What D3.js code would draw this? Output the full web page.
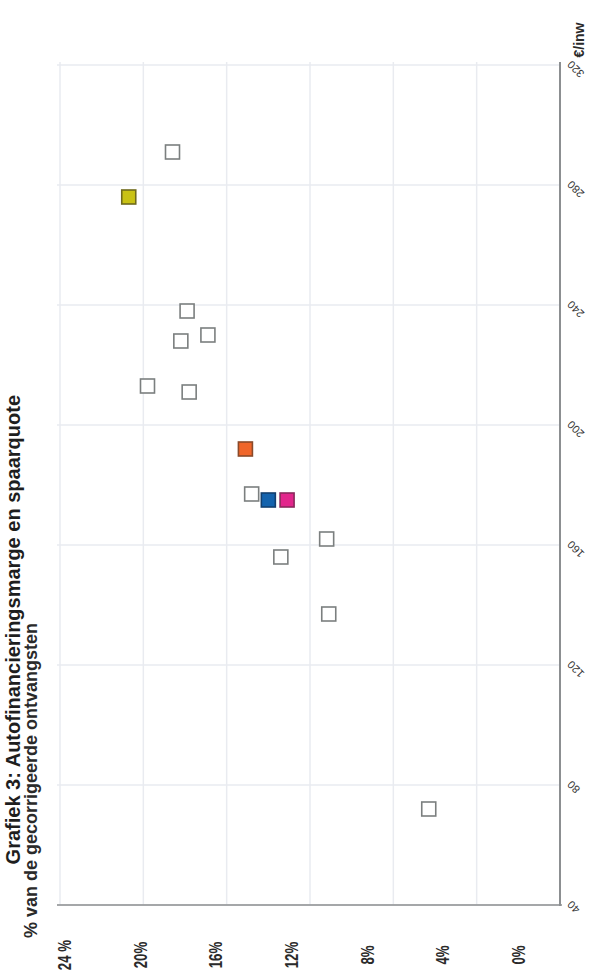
<!DOCTYPE html>
<html><head><meta charset="utf-8">
<script src="https://cdn.jsdelivr.net/npm/d3@7"></script>
<style>body{margin:0;background:#fff}svg{display:block}</style>
</head><body><div id="chart"></div>
<script>
// Data (chart is shown rotated 90° counter-clockwise, as in the scanned page)
const titleText = "Grafiek 3: Autofinancieringsmarge en spaarquote";
const subtitleText = "% van de gecorrigeerde ontvangsten";
const unitText = "€/inw";
const pctTicks = [24, 20, 16, 12, 8, 4, 0];
const pctTickLabels = ["24 %", "20%", "16%", "12%", "8%", "4%", "0%"];
const eurTicks = [40, 80, 120, 160, 200, 240, 280, 320];
const eurTickLabels = ["40", "80", "120", "160", "200", "240", "280", "320"];
const pointPct = [18.6, 20.7, 17.9, 16.9, 18.2, 19.8, 17.8, 15.1, 14.8, 14.0, 13.1, 11.2, 13.4, 11.1, 6.3];
const pointEur = [291, 276, 238, 230, 228, 213, 211, 192, 177, 175, 175, 162, 156, 137, 72];
const pointGroup = ["ander", "geel", "ander", "ander", "ander", "ander", "ander", "oranje", "ander", "blauw", "roze", "ander", "ander", "ander", "ander"];
const groupNames = ["ander", "geel", "oranje", "blauw", "roze"];
const groupFill = ["#ffffff", "#c9c214", "#f0662a", "#1463ad", "#e2268c"];
const groupStroke = ["#7b7f7f", "#6f6a1c", "#8a4a2a", "#123f6e", "#8a2a5c"];

const W = 593, H = 974;
const svg = d3.select("#chart").append("svg").attr("width", W).attr("height", H);
svg.append("rect").attr("width", W).attr("height", H).attr("fill", "#fff");

const x = d3.scaleLinear().domain([24, 0]).range([60, 560]);
const xLab = d3.scaleLinear().domain([24, 0]).range([65, 519]);
const y = d3.scaleLinear().domain([40, 320]).range([905, 65]);
const fillScale = d3.scaleOrdinal().domain(groupNames).range(groupFill);
const strokeScale = d3.scaleOrdinal().domain(groupNames).range(groupStroke);

// gridlines
svg.append("g").selectAll("line").data(pctTicks).join("line")
  .attr("x1", d => x(d)).attr("x2", d => x(d))
  .attr("y1", y(320) - 3).attr("y2", y(40))
  .attr("stroke", "#e9ebf0").attr("stroke-width", 1.5);
svg.append("g").selectAll("line").data(eurTicks).join("line")
  .attr("x1", x(24) - 3).attr("x2", x(0))
  .attr("y1", d => y(d)).attr("y2", d => y(d))
  .attr("stroke", "#e9ebf0").attr("stroke-width", 1.5);

// axis lines
svg.append("line").attr("x1", x(24) - 3).attr("x2", x(0) + 2).attr("y1", y(40)).attr("y2", y(40))
  .attr("stroke", "#8c8f91").attr("stroke-width", 1.6);
svg.append("line").attr("x1", x(0)).attr("x2", x(0)).attr("y1", y(320) - 3).attr("y2", y(40) + 1)
  .attr("stroke", "#8c8f91").attr("stroke-width", 2);

// percent tick labels
svg.append("g").selectAll("text").data(pctTicks).join("text")
  .attr("transform", (d) => `translate(${xLab(d) + 6},955) rotate(-90) scale(0.95,1.35)`)
  .attr("text-anchor", "middle")
  .attr("font-family", "Liberation Sans, Arial, sans-serif")
  .attr("font-size", 14).attr("font-weight", "bold").attr("fill", "#2a2a2a")
  .text((d, i) => pctTickLabels[i]);

// €/inw tick labels
svg.append("g").selectAll("text").data(eurTicks).join("text")
  .attr("transform", d => `translate(572,${y(d) - 5}) rotate(-135)`)
  .attr("text-anchor", "end")
  .attr("font-family", "Liberation Sans, Arial, sans-serif")
  .attr("font-size", 11).attr("fill", "#333")
  .text((d, i) => eurTickLabels[i]);

// unit label
svg.append("text").attr("transform", "translate(584,40) rotate(-90)")
  .attr("text-anchor", "middle")
  .attr("font-family", "Liberation Sans, Arial, sans-serif")
  .attr("font-size", 14).attr("font-weight", "bold").attr("fill", "#2a2a2a")
  .text(unitText);

// title and subtitle
svg.append("text").attr("transform", "translate(19.5,395) rotate(-90)")
  .attr("text-anchor", "end")
  .attr("font-family", "Liberation Sans, Arial, sans-serif")
  .attr("font-size", 20).attr("font-weight", "bold").attr("fill", "#1e1e1e")
  .text(titleText);
svg.append("text").attr("transform", "translate(37,938) rotate(-90)")
  .attr("text-anchor", "start")
  .attr("font-family", "Liberation Sans, Arial, sans-serif")
  .attr("font-size", 18).attr("font-weight", "bold").attr("fill", "#2a2a2a")
  .text(subtitleText);

// markers
const idx = d3.range(pointPct.length).sort((a, b) => (pointGroup[a] !== "ander") - (pointGroup[b] !== "ander"));
const s = 14;
svg.append("g").selectAll("rect").data(idx).join("rect")
  .attr("x", i => x(pointPct[i]) - s / 2)
  .attr("y", i => y(pointEur[i]) - s / 2)
  .attr("width", s).attr("height", s)
  .attr("fill", i => fillScale(pointGroup[i]))
  .attr("stroke", i => strokeScale(pointGroup[i]))
  .attr("stroke-width", 1.6);
</script></body></html>
